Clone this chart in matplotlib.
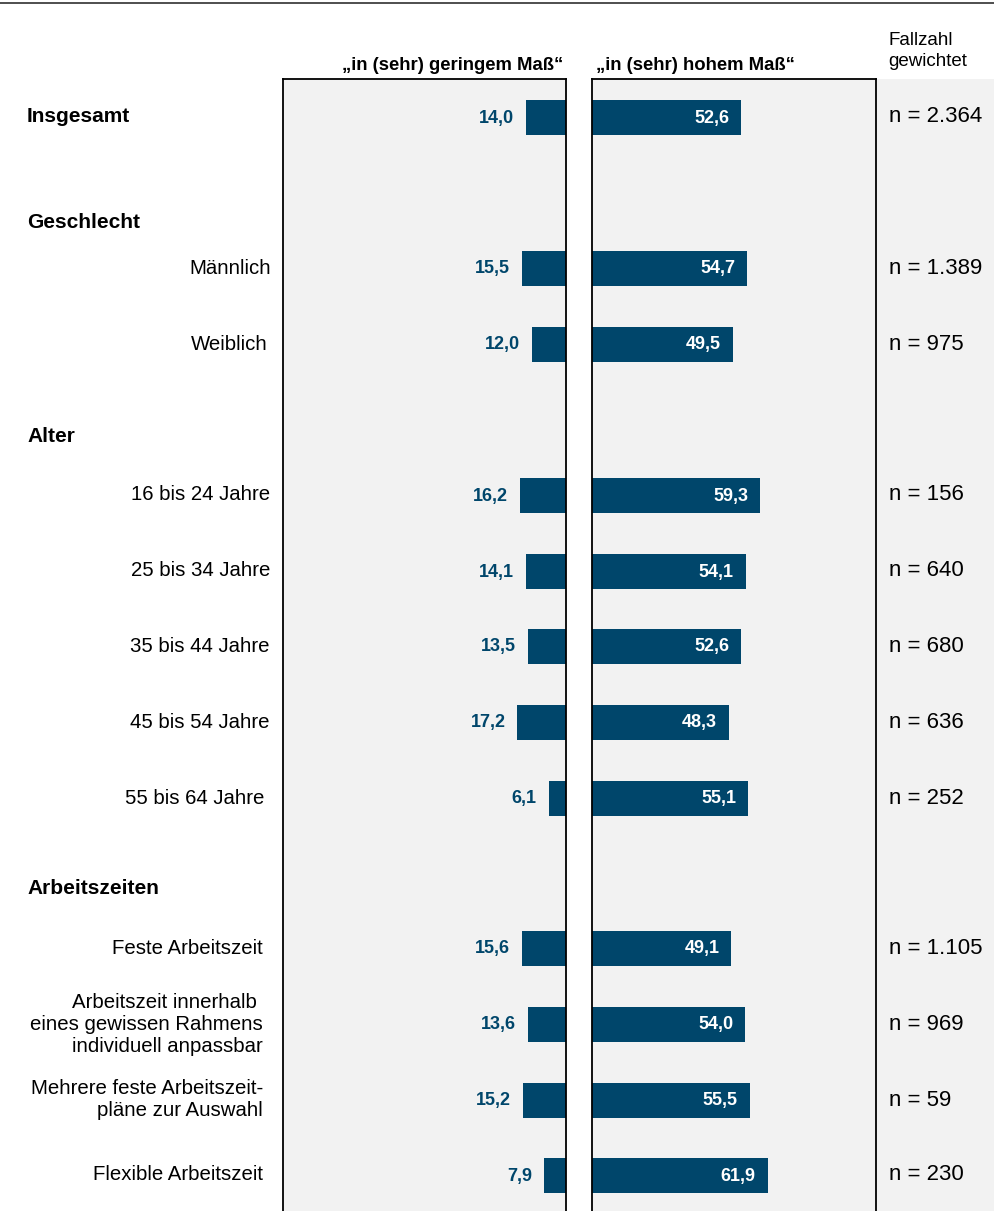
import matplotlib
matplotlib.use("Agg")
import matplotlib.pyplot as plt

plt.rcParams["font.family"] = ["Liberation Sans", "DejaVu Sans"]

# values in percent
categories = ["Insgesamt", "Männlich", "Weiblich",
              "16 bis 24 Jahre", "25 bis 34 Jahre", "35 bis 44 Jahre",
              "45 bis 54 Jahre", "55 bis 64 Jahre",
              "Feste Arbeitszeit",
              "Arbeitszeit innerhalb \neines gewissen Rahmens\nindividuell anpassbar",
              "Mehrere feste Arbeitszeit-\npläne zur Auswahl",
              "Flexible Arbeitszeit"]
low = [14.0, 15.5, 12.0, 16.2, 14.1, 13.5, 17.2, 6.1, 15.6, 13.6, 15.2, 7.9]
high = [52.6, 54.7, 49.5, 59.3, 54.1, 52.6, 48.3, 55.1, 49.1, 54.0, 55.5, 61.9]
fallzahl = ["2.364", "1.389", "975", "156", "640", "680", "636", "252",
            "1.105", "969", "59", "230"]
groups = ["Geschlecht", "Alter", "Arbeitszeiten"]

# layout in pixels (figure is 995 x 1211)
W, H = 995, 1211
row_y = [117, 268, 344, 495, 571, 646, 722, 798, 948, 1024, 1100, 1175]
label_x = [None, 271, 268, 270, 270, 270, 270, 264, 263, 263, 263, 263]
group_y = [223, 436, 889]
bar_h = 35
panel_top = 79
left_box = (283, 566)
right_box = (592, 876)

blue = "#00466b"
grey = "#f2f2f2"


def fig_rect(x0, x1, top, bottom):
    return [x0 / W, 1 - bottom / H, (x1 - x0) / W, (bottom - top) / H]


fig = plt.figure(figsize=(W / 100, H / 100), dpi=100)

bg = fig.add_axes([0, 0, 1, 1])
bg.set_xlim(0, W)
bg.set_ylim(H, 0)
bg.axis("off")

# top rule
bg.plot([0, W], [3, 3], color="#404040", lw=1.3, solid_capstyle="butt")

# sample size column
bg.add_patch(plt.Rectangle((877, panel_top), W - 877, H - panel_top,
                           facecolor=grey, edgecolor="none"))

axL = fig.add_axes(fig_rect(*left_box, panel_top, H))
axR = fig.add_axes(fig_rect(*right_box, panel_top, H))
for ax in (axL, axR):
    ax.set_facecolor(grey)
    ax.set_ylim(H, panel_top)
    ax.set_xticks([])
    ax.set_yticks([])
    ax.spines["bottom"].set_visible(False)
    for s in ("left", "right", "top"):
        ax.spines[s].set_linewidth(1.3)
        ax.spines[s].set_color("black")
axL.set_xlim(100, 0)
axR.set_xlim(0, 100)

axL.barh(row_y, low, height=bar_h, color=blue)
axR.barh(row_y, high, height=bar_h, color=blue)

for y, lo, hi in zip(row_y, low, high):
    axL.text(lo + 4.2, y + 1, f"{lo:.1f}".replace(".", ","), ha="right",
             va="center", color=blue, fontsize=13, fontweight="bold")
    axR.text(hi - 4.2, y + 1, f"{hi:.1f}".replace(".", ","), ha="right",
             va="center", color="white", fontsize=13, fontweight="bold")

# row labels
bg.text(27, row_y[0], categories[0], ha="left", va="center",
        fontsize=15, fontweight="bold")
for lab, x, y in zip(categories[1:], label_x[1:], row_y[1:]):
    bg.text(x, y, lab, ha="right", va="center", fontsize=14.7,
            multialignment="right", linespacing=1.2)
for g, y in zip(groups, group_y):
    bg.text(27, y, g, ha="left", va="center", fontsize=15, fontweight="bold")

for n, y in zip(fallzahl, row_y):
    bg.text(889, y, f"n = {n}", ha="left", va="center", fontsize=16)

# column headings
bg.text(563, 65, "„in (sehr) geringem Maß“", ha="right", va="center",
        fontsize=13.3, fontweight="bold")
bg.text(596, 65, "„in (sehr) hohem Maß“", ha="left", va="center",
        fontsize=13.3, fontweight="bold")
bg.text(888, 51, "Fallzahl\ngewichtet", ha="left", va="center",
        fontsize=13.5, linespacing=1.35)

fig.savefig("out.png", dpi=100)
